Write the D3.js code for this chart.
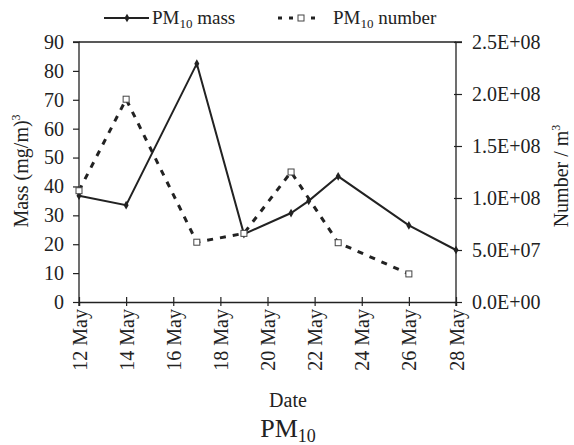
<!DOCTYPE html>
<html>
<head>
<meta charset="utf-8">
<script src="https://cdn.jsdelivr.net/npm/d3@7"></script>
<style>
  body { margin: 0; background: #fff; }
  svg text { font-family: 'Liberation Serif', 'Times New Roman', Times, 'DejaVu Serif', serif !important; fill: #222; }
</style>
</head>
<body>
<svg id="chart" width="574" height="445"></svg>
<script>
// values
const massDates  = ['2000-05-12T00:00', '2000-05-14T00:00', '2000-05-17T00:00', '2000-05-19T00:00', '2000-05-21T00:00', '2000-05-21T18:00', '2000-05-23T00:00', '2000-05-26T00:00', '2000-05-28T00:00'];
const massValues = [36.8, 33.5, 82.5, 23.5, 30.8, 35, 43.5, 26.5, 18];
const numberDates  = ['2000-05-12T00:00', '2000-05-14T00:00', '2000-05-17T00:00', '2000-05-19T00:00', '2000-05-21T00:00', '2000-05-23T00:00', '2000-05-26T00:00'];
const numberValues = [1.07e8, 1.95e8, 5.75e7, 6.6e7, 1.25e8, 5.7e7, 2.7e7];
const dateTicks  = ['2000-05-12', '2000-05-14', '2000-05-16', '2000-05-18', '2000-05-20', '2000-05-22', '2000-05-24', '2000-05-26', '2000-05-28'];
const leftTicks  = [0, 10, 20, 30, 40, 50, 60, 70, 80, 90];
const rightTicks = [0, 5e7, 1e8, 1.5e8, 2e8, 2.5e8];

const W = 574, H = 445;
const m = { left: 79, right: 118, top: 42, bottom: 143 };
const FS = 20;
const svg = d3.select('#chart');
const g = svg.append('g').attr('transform', `translate(${m.left},${m.top})`);
const iw = W - m.left - m.right, ih = H - m.top - m.bottom;

const parse = d3.timeParse('%Y-%m-%dT%H:%M');
const parseDay = d3.timeParse('%Y-%m-%d');
const x = d3.scaleTime().domain([parseDay(dateTicks[0]), parseDay(dateTicks[dateTicks.length - 1])]).range([0, iw]);
const yL = d3.scaleLinear().domain([0, 90]).range([ih, 0]);
const yR = d3.scaleLinear().domain([0, 2.5e8]).range([ih, 0]);

const mass = massDates.map((d, i) => ({ date: parse(d), v: massValues[i] }));
const num = numberDates.map((d, i) => ({ date: parse(d), v: numberValues[i] }));

// top frame line
g.append('line').attr('x1', 0).attr('x2', iw).attr('y1', 0).attr('y2', 0).attr('stroke', '#222').attr('stroke-width', 1.3);

// left axis
const ax = g.append('g').call(d3.axisLeft(yL).tickValues(leftTicks).tickSize(6).tickPadding(9));
// right axis
const ar = g.append('g').attr('transform', `translate(${iw},0)`)
  .call(d3.axisRight(yR).tickValues(rightTicks).tickSize(6).tickPadding(10)
    .tickFormat(d => d3.format('.1e')(d).replace(/e([+-])(\d)$/, 'E$10$2').replace('e', 'E')));
// bottom axis
const ab = g.append('g').attr('transform', `translate(0,${ih})`)
  .call(d3.axisBottom(x).tickValues(dateTicks.map(parseDay)).tickFormat(d3.timeFormat('%-d May')).tickSize(4).tickPadding(0));
ab.selectAll('.tick line').attr('y1', -5).attr('y2', 4);
ab.selectAll('.tick text').attr('transform', 'rotate(-90)').attr('text-anchor', 'end')
  .attr('x', -7).attr('y', 0).attr('dy', '0.35em');

[ax, ar, ab].forEach(a => {
  a.attr('font-family', null);
  a.select('.domain').attr('stroke', '#222').attr('stroke-width', 1.3);
  a.selectAll('.tick line').attr('stroke', '#222').attr('stroke-width', 1.2);
  a.selectAll('.tick text').attr('font-size', FS).attr('fill', '#222');
});
ar.selectAll('.tick line').attr('x1', -2);
ax.select('.domain').attr('d', `M-6,0H0V${ih + 4}`);
ar.select('.domain').attr('d', `M6,0H0V${ih + 4}`);

// lines
const lineL = d3.line().x(d => x(d.date)).y(d => yL(d.v));
const lineR = d3.line().x(d => x(d.date)).y(d => yR(d.v));

g.append('path').datum(num).attr('d', lineR).attr('fill', 'none').attr('stroke', '#222')
  .attr('stroke-width', 3).attr('stroke-dasharray', '6,7');
g.append('path').datum(mass).attr('d', lineL).attr('fill', 'none').attr('stroke', '#222').attr('stroke-width', 2);

const diamond = d3.symbol().type(d3.symbolDiamond).size(22);
g.selectAll('.mm').data(mass).join('path').attr('class', 'mm')
  .attr('transform', d => `translate(${x(d.date)},${yL(d.v)})`).attr('d', diamond).attr('fill', '#222');
g.selectAll('.nm').data(num).join('rect').attr('class', 'nm')
  .attr('x', d => x(d.date) - 3).attr('y', d => yR(d.v) - 3).attr('width', 6).attr('height', 6)
  .attr('fill', '#fff').attr('stroke', '#444').attr('stroke-width', 1);

// axis titles
const tl = svg.append('text').attr('transform', `translate(28,${m.top + ih / 2 - 1}) rotate(-90)`)
  .attr('text-anchor', 'middle').attr('font-size', FS);
tl.append('tspan').text('Mass (mg/m)');
tl.append('tspan').text('3').attr('font-size', 12).attr('dy', -8);

const tr = svg.append('text').attr('transform', `translate(568,${m.top + ih / 2 + 4}) rotate(-90)`)
  .attr('text-anchor', 'middle').attr('font-size', FS);
tr.append('tspan').text('Number / m');
tr.append('tspan').text('3').attr('font-size', 12).attr('dy', -8);

svg.append('text').attr('x', 288).attr('y', 407).attr('text-anchor', 'middle').attr('font-size', FS).text('Date');

const title = svg.append('text').attr('x', 288).attr('y', 437).attr('text-anchor', 'middle').attr('font-size', 26);
title.append('tspan').text('PM');
title.append('tspan').text('10').attr('font-size', 18).attr('dy', 5);

// legend
const lg = svg.append('g');
lg.append('line').attr('x1', 104).attr('x2', 149).attr('y1', 18).attr('y2', 18).attr('stroke', '#222').attr('stroke-width', 2);
lg.append('path').attr('transform', 'translate(127,18)').attr('d', diamond).attr('fill', '#222');
const t1 = lg.append('text').attr('x', 152).attr('y', 24).attr('font-size', 19);
t1.append('tspan').text('PM');
t1.append('tspan').text('10').attr('font-size', 13).attr('dy', 4);
t1.append('tspan').text(' mass').attr('dy', -4);

lg.append('line').attr('x1', 278).attr('x2', 322).attr('y1', 18).attr('y2', 18).attr('stroke', '#222')
  .attr('stroke-width', 3).attr('stroke-dasharray', '4,7');
lg.append('rect').attr('x', 298).attr('y', 15).attr('width', 6).attr('height', 6).attr('fill', '#fff').attr('stroke', '#444');
const t2 = lg.append('text').attr('x', 333).attr('y', 24).attr('font-size', 19);
t2.append('tspan').text('PM');
t2.append('tspan').text('10').attr('font-size', 13).attr('dy', 4);
t2.append('tspan').text(' number').attr('dy', -4);
</script>
</body>
</html>
